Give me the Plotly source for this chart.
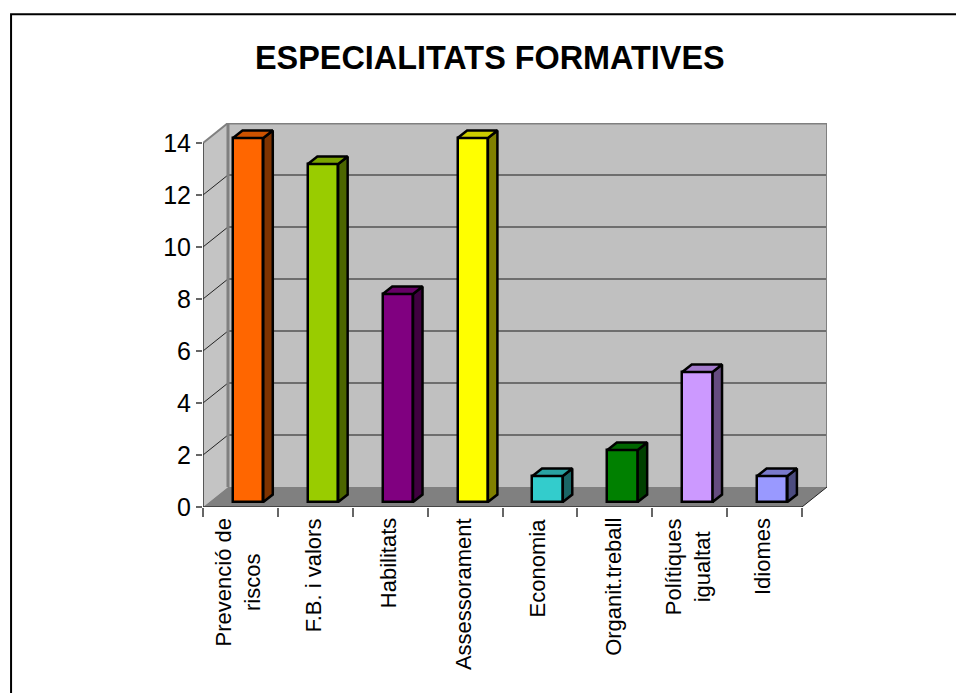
import plotly.graph_objects as go

categories = ["Prevenció de<br>riscos", "F.B. i valors", "Habilitats", "Assessorament",
              "Economia", "Organit.treball", "Polítiques<br>igualtat", "Idiomes"]
values = [14, 13, 8, 14, 1, 2, 5, 1]
front_colors = ["#FF6600", "#99CC00", "#800080", "#FFFF00", "#33CCCC", "#008000", "#CC99FF", "#9999FF"]
top_colors = ["#CC5200", "#7AA300", "#660066", "#CCCC00", "#29A3A3", "#006600", "#A37ACC", "#7A7ACC"]
side_colors = ["#7F3300", "#4C6600", "#400040", "#808000", "#1A6666", "#004000", "#664C80", "#4C4C80"]
y_ticks = [0, 2, 4, 6, 8, 10, 12, 14]
title = "ESPECIALITATS FORMATIVES"

W, H = 956, 693
LEFT, BOTTOM = 203, 507.5      # pixel position of the axes origin
CAT_PX, UNIT_PX = 74.9, 26.04  # pixels per category / per value unit
DEPTH_X, DEPTH_Y = 25 / CAT_PX, 20 / UNIT_PX   # depth of the chart box
BAR_W = 30.3 / CAT_PX
BAR_SHIFT_X, BAR_SHIFT_Y = 7.7 / CAT_PX, 5 / UNIT_PX
BAR_DX, BAR_DY = 9.5 / CAT_PX, 7.5 / UNIT_PX
N = len(categories)
X_MAX = N + DEPTH_X
Y_MAX = max(y_ticks) + DEPTH_Y
RIGHT_PX = LEFT + X_MAX * CAT_PX
TOP_PX = BOTTOM - Y_MAX * UNIT_PX

fig = go.Figure()
shapes = []


def poly(pts, fill, line_color=None, width=0, layer="below"):
    path = "M" + "L".join(f"{x},{y}" for x, y in pts) + "Z"
    shapes.append(dict(type="path", path=path, fillcolor=fill, layer=layer,
                       line=dict(color=line_color or fill, width=width)))


def seg(x0, y0, x1, y1, color, width):
    shapes.append(dict(type="line", x0=x0, y0=y0, x1=x1, y1=y1, layer="below",
                       line=dict(color=color, width=width)))


top = max(y_ticks)
# walls and floor
poly([(DEPTH_X, DEPTH_Y), (X_MAX, DEPTH_Y), (X_MAX, Y_MAX), (DEPTH_X, Y_MAX)], "#C0C0C0")
poly([(0, 0), (DEPTH_X, DEPTH_Y), (DEPTH_X, Y_MAX), (0, top)], "#C4C4C4")
poly([(0, 0), (N, 0), (X_MAX, DEPTH_Y), (DEPTH_X, DEPTH_Y)], "#808080")
# grid lines
for v in y_ticks[1:]:
    seg(DEPTH_X, v + DEPTH_Y, X_MAX, v + DEPTH_Y, "#6E6E6E", 2)
    if v < top:
        seg(0, v, DEPTH_X, v + DEPTH_Y, "#222222", 1)
seg(0, top, DEPTH_X, top + DEPTH_Y, "#808080", 2)
seg(DEPTH_X, DEPTH_Y, DEPTH_X, Y_MAX, "#808080", 3)
seg(X_MAX, DEPTH_Y, X_MAX, Y_MAX, "#808080", 2)
seg(DEPTH_X, Y_MAX, X_MAX, Y_MAX, "#808080", 3)
# axis lines
seg(0, 0, 0, top, "#333333", 1.5)
seg(0, 0, N, 0, "#333333", 1.5)
seg(N, 0, X_MAX, DEPTH_Y, "#222222", 1)

# outer frame
frame = dict(type="rect", xref="paper", yref="paper", layer="below", fillcolor="rgba(0,0,0,0)",
             x0=(11 - LEFT) / (RIGHT_PX - LEFT), x1=(965 - LEFT) / (RIGHT_PX - LEFT),
             y0=(BOTTOM - 705) / (BOTTOM - TOP_PX), y1=(BOTTOM - 14) / (BOTTOM - TOP_PX),
             line=dict(color="#000000", width=2))
shapes.append(frame)

# front faces of the bars
fig.add_trace(go.Bar(
    x=[i + 0.5 + BAR_SHIFT_X for i in range(N)],
    y=values,
    base=[BAR_SHIFT_Y] * N,
    width=[BAR_W] * N,
    marker=dict(color=front_colors, line=dict(color="#000000", width=2.5)),
    hoverinfo="skip", showlegend=False, cliponaxis=False,
))

# side and top faces
for i, v in enumerate(values):
    xl = i + 0.5 + BAR_SHIFT_X - BAR_W / 2
    xr = xl + BAR_W
    y0 = BAR_SHIFT_Y
    yt = v + BAR_SHIFT_Y
    fig.add_trace(go.Scatter(
        x=[xr, xr + BAR_DX, xr + BAR_DX, xr, xr],
        y=[y0, y0 + BAR_DY, yt + BAR_DY, yt, y0],
        mode="lines", fill="toself", fillcolor=side_colors[i],
        line=dict(color="#000000", width=2.5), hoverinfo="skip", showlegend=False))
    fig.add_trace(go.Scatter(
        x=[xl, xr, xr + BAR_DX, xl + BAR_DX, xl],
        y=[yt, yt, yt + BAR_DY, yt + BAR_DY, yt],
        mode="lines", fill="toself", fillcolor=top_colors[i],
        line=dict(color="#000000", width=2.5), hoverinfo="skip", showlegend=False))

annotations = [dict(x=i + 0.5 - 2 / CAT_PX, y=0, xref="x", yref="y", text=c, textangle=-90,
                    showarrow=False, xanchor="center", yanchor="top", yshift=-9, align="center",
                    font=dict(family="Liberation Sans", size=22, color="#000000"))
               for i, c in enumerate(categories)]
annotations.append(dict(xref="paper", yref="paper", x=(490.5 - LEFT) / (RIGHT_PX - LEFT),
                        y=(BOTTOM - 58) / (BOTTOM - TOP_PX), text=f"<b>{title}</b>", showarrow=False,
                        xanchor="center", yanchor="middle",
                        font=dict(family="Liberation Sans", size=32.4, color="#000000")))

fig.update_layout(
    width=W, height=H, autosize=False,
    margin=dict(l=LEFT, r=W - RIGHT_PX, t=TOP_PX, b=H - BOTTOM, pad=0),
    paper_bgcolor="#FFFFFF", plot_bgcolor="rgba(0,0,0,0)",
    shapes=shapes, annotations=annotations, showlegend=False, bargap=0,
    xaxis=dict(range=[0, X_MAX], tickmode="array", tickvals=list(range(N + 1)), ticktext=[""] * (N + 1),
               ticks="outside", ticklen=9, tickwidth=1.5, tickcolor="#666666",
               showgrid=False, zeroline=False, showline=False, fixedrange=True),
    yaxis=dict(range=[0, Y_MAX], tickmode="array", tickvals=y_ticks, ticktext=[str(t) for t in y_ticks],
               ticks="outside", ticklen=6, tickwidth=1.5, tickcolor="#666666",
               tickfont=dict(family="Liberation Sans", size=25, color="#000000"),
               showgrid=False, zeroline=False, showline=False, fixedrange=True),
)

fig.write_html("out.html", config=dict(displayModeBar=False),
               post_script="document.body.style.margin='0';document.body.style.overflow='hidden';")
